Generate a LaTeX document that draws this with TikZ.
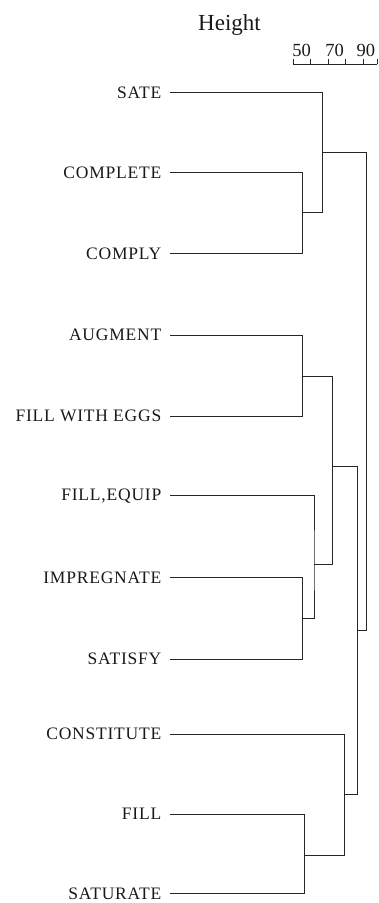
\documentclass[tikz,border=0pt]{standalone}
\usepackage{fontspec}
\setmainfont{Liberation Serif}
\newfontfamily\leaffont[LetterSpace=4.5]{Liberation Serif}
\begin{document}
\begin{tikzpicture}[x=1pt,y=-1pt,
  leaf/.style={anchor=east,inner sep=0pt,text height=11.5pt,text depth=0pt,
    font=\leaffont\fontsize{17.5}{20}\selectfont,text=black!90},
  branch/.style={draw=black!85,line width=0.85pt},
  axislbl/.style={inner sep=0pt,anchor=base,text=black!90}]
\useasboundingbox (0,0) rectangle (379,903);

% scale bar
\node[axislbl,anchor=base west,font=\fontsize{23}{26}\selectfont] (htitle) at (198,30.7) {Height};
\node[axislbl,font=\fontsize{18.5}{22}\selectfont] (h50) at (301.5,56.7) {50};
\node[axislbl,font=\fontsize{18.5}{22}\selectfont] (h70) at (334.5,56.7) {70};
\node[axislbl,font=\fontsize{18.5}{22}\selectfont] (h90) at (365.8,56.7) {90};
\coordinate (sL) at (293.3,64);
\coordinate (sR) at (377.2,64);
\draw[branch] (sL) -- (sR);
\foreach \tx in {293.3,310.7,328.3,345.7,363.3,377.2}
  \draw[branch] (\tx,64) -- (\tx,58.5);

% leaf labels
\foreach \nm/\yy/\lbl in {
  sate/92.3/SATE, complete/172.3/COMPLETE, comply/253.3/COMPLY,
  augment/335/AUGMENT, eggs/416/FILL WITH EGGS, equip/495/{FILL,EQUIP},
  impregnate/577.7/IMPREGNATE, satisfy/659/SATISFY,
  constitute/734/CONSTITUTE, fill/814/FILL, saturate/893.5/SATURATE}{
  \node[leaf] (\nm) at (161.5,\yy) {\lbl};
  \coordinate (t\nm) at ([xshift=8.5pt]\nm.east);
}

% merge points
\coordinate (m1) at (302.3,212.3);
\coordinate (m2) at (322.3,152.3);
\coordinate (m3) at (302.3,376);
\coordinate (m4) at (302.3,618.3);
\coordinate (m5) at (314,564);
\coordinate (m6) at (332.3,466);
\coordinate (m7) at (304.3,855.7);
\coordinate (m8) at (344.3,794.5);
\coordinate (m9) at (357.7,630);
\coordinate (m10) at (366.7,390);

% dendrogram branches
\draw[branch] (tcomplete) -| (m1) |- (tcomply);
\draw[branch] (tsate) -| (m2) |- (m1);
\draw[branch] (taugment) -| (m3) |- (teggs);
\draw[branch] (timpregnate) -| (m4) |- (tsatisfy);
\draw[branch] (tequip) -| (m5) |- (m4);
\draw[branch] (m3) -| (m6) |- (m5);
\draw[branch] (tfill) -| (m7) |- (tsaturate);
\draw[branch] (tconstitute) -| (m8) |- (m7);
\draw[branch] (m6) -| (m9) |- (m8);
\draw[branch] (m2) -| (m10) |- (m9);
\end{tikzpicture}
\end{document}
